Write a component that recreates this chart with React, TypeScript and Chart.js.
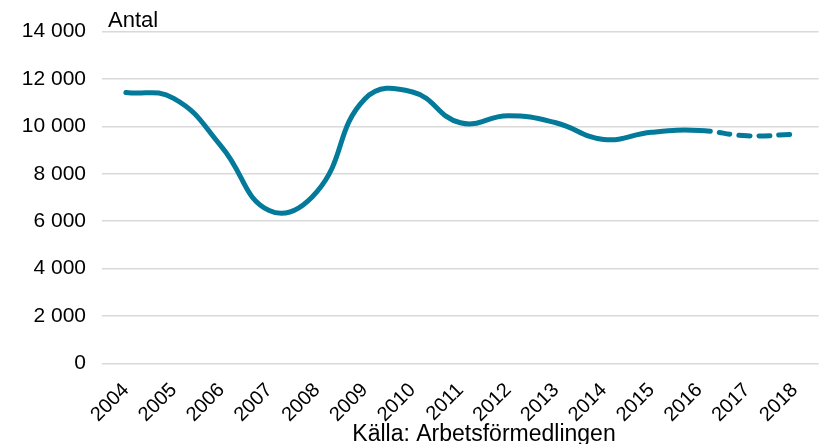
import React, { useEffect, useRef } from "react";
import { Chart, registerables } from "chart.js";

Chart.register(...registerables);

const years = ["2004", "2005", "2006", "2007", "2008", "2009", "2010", "2011", "2012", "2013", "2014", "2015", "2016", "2017", "2018"];
const antal = [11430, 11180, 9150, 6450, 7250, 11150, 11450, 10150, 10450, 10150, 9450, 9750, 9830, 9600, 9670];
const yTicks = [0, 2000, 4000, 6000, 8000, 10000, 12000, 14000];
const titleText = "Antal";
const sourceText = "Källa: Arbetsförmedlingen";
const forecastFromIndex = 12;

const fmt = (v: number) => String(v).replace(/\B(?=(\d{3})+(?!\d))/g, " ");

const FONT = "'Liberation Sans', Arial, sans-serif";

const textPlugin = {
  id: "texts",
  afterDraw(chart: any) {
    const { ctx, chartArea } = chart;
    ctx.save();
    ctx.fillStyle = "#000";
    ctx.font = `22px ${FONT}`;
    ctx.textAlign = "left";
    ctx.textBaseline = "alphabetic";
    ctx.fillText(titleText, chartArea.left + 6, 27);
    ctx.font = `23px ${FONT}`;
    ctx.textAlign = "center";
    ctx.fillText(sourceText, 484, 441);
    ctx.restore();
  },
};

export default function App() {
  const ref = useRef<HTMLCanvasElement | null>(null);
  useEffect(() => {
    document.body.style.margin = "0";
    const chart = new Chart(ref.current as HTMLCanvasElement, {
      type: "line",
      data: {
        labels: years,
        datasets: [
          {
            data: antal,
            borderColor: "#037A9A",
            borderWidth: 5,
            tension: 0.45,
            pointRadius: 0,
            borderCapStyle: "round",
            fill: false,
            segment: {
              borderDash: (c: any) => (c.p0DataIndex >= forecastFromIndex ? [11, 9] : undefined),
            },
          } as any,
        ],
      },
      options: {
        animation: false,
        responsive: false,
        maintainAspectRatio: false,
        layout: { padding: { top: 31.5, right: 7, left: 0, bottom: 0 } },
        plugins: { legend: { display: false }, tooltip: { enabled: false }, title: { display: false } },
        scales: {
          x: {
            offset: true,
            grid: { display: false, drawTicks: false },
            border: { display: false },
            ticks: {
              color: "#000",
              font: { family: FONT, size: 20 },
              minRotation: 45,
              maxRotation: 45,
              padding: 15,
              autoSkip: false,
            },
            afterFit: (s: any) => {
              s.height = 80.5;
            },
          },
          y: {
            min: 0,
            max: 14000,
            grid: { color: "#d9d9d9", lineWidth: 1.5, drawTicks: false },
            border: { display: false },
            afterBuildTicks: (s: any) => {
              s.ticks = yTicks.map((v) => ({ value: v }));
            },
            ticks: {
              color: "#000",
              font: { family: FONT, size: 21 },
              padding: 16,
              callback: (v: any) => fmt(Number(v)),
            },
            afterFit: (s: any) => {
              s.width = 102;
            },
          },
        },
      },
      plugins: [textPlugin],
    });
    return () => chart.destroy();
  }, []);
  return (
    <div style={{ position: "fixed", left: 0, top: 0, width: 827, height: 444 }}>
      <canvas ref={ref} width={827} height={444} style={{ width: 827, height: 444 }} />
    </div>
  );
}
